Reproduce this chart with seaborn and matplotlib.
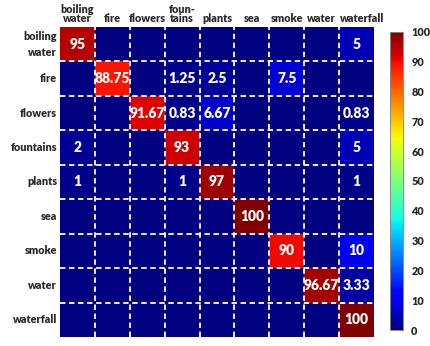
import numpy as np
import pandas as pd
import matplotlib
matplotlib.use("Agg")
import matplotlib.pyplot as plt
import matplotlib.transforms as mtransforms
import seaborn as sns

classes = ["boiling water", "fire", "flowers", "fountains", "plants", "sea", "smoke", "water", "waterfall"]
col_labels = ["boiling\nwater", "fire", "flowers", "foun-\ntains", "plants", "sea", "smoke", "water", "waterfall"]
row_labels = ["boiling\nwater", "fire", "flowers", "fountains", "plants", "sea", "smoke", "water", "waterfall"]

row_boiling_water = [95, 0, 0, 0, 0, 0, 0, 0, 5]
row_fire = [0, 88.75, 0, 1.25, 2.5, 0, 7.5, 0, 0]
row_flowers = [0, 0, 91.67, 0.83, 6.67, 0, 0, 0, 0.83]
row_fountains = [2, 0, 0, 93, 0, 0, 0, 0, 5]
row_plants = [1, 0, 0, 1, 97, 0, 0, 0, 1]
row_sea = [0, 0, 0, 0, 0, 100, 0, 0, 0]
row_smoke = [0, 0, 0, 0, 0, 0, 90, 0, 10]
row_water = [0, 0, 0, 0, 0, 0, 0, 96.67, 3.33]
row_waterfall = [0, 0, 0, 0, 0, 0, 0, 0, 100]

cbar_ticks = [0, 10, 20, 30, 40, 50, 60, 70, 80, 90, 100]

data = np.array([row_boiling_water, row_fire, row_flowers, row_fountains, row_plants,
                 row_sea, row_smoke, row_water, row_waterfall], dtype=float)
df = pd.DataFrame(data, index=row_labels, columns=col_labels)

def fmt(v):
    if v == 0:
        return ""
    if float(v).is_integer():
        return str(int(v))
    return ("%.2f" % v).rstrip("0").rstrip(".")

annot = np.vectorize(fmt)(data)

sns.set_style("white")
plt.rcParams["font.family"] = ["Lato", "DejaVu Sans"]

fig = plt.figure(figsize=(4.30, 3.46), dpi=100)
ax = fig.add_axes([0.1395, 0.026, 0.7305, 0.896])
cax = fig.add_axes([0.907, 0.046, 0.030, 0.862])

sns.heatmap(df, ax=ax, cbar_ax=cax, cmap="jet", vmin=0, vmax=100,
            annot=annot, fmt="",
            annot_kws={"color": "white", "fontsize": 10, "fontweight": "heavy"},
            cbar_kws={"ticks": cbar_ticks})

n = len(classes)
for k in range(1, n):
    ax.axhline(k, color="white", lw=1.3, ls=(0, (3, 2)))
    ax.axvline(k, color="white", lw=1.3, ls=(0, (3, 2)))

ax.xaxis.tick_top()
ax.set_xticklabels(col_labels, rotation=0, fontsize=7.8, fontweight="heavy", color="#2a2a2a",
                   linespacing=0.85)
ax.set_yticklabels(row_labels, rotation=0, fontsize=7.8, fontweight="heavy", color="#2a2a2a",
                   ha="right", linespacing=1.6)
ax.tick_params(axis="both", length=0, pad=2)
ax.set_xlabel("")
ax.set_ylabel("")

# nudge the last column label right, as in the reference
last = ax.get_xticklabels()[-1]
last.set_transform(last.get_transform() +
                   mtransforms.ScaledTranslation(6 / 100, 0, fig.dpi_scale_trans))

cax.tick_params(labelsize=7.8, length=3, direction="in", color="#444444", pad=6)
for t in cax.get_yticklabels():
    t.set_fontweight("heavy")
    t.set_color("#2a2a2a")
for s in cax.spines.values():
    s.set_visible(True)
    s.set_color("#888888")
    s.set_linewidth(0.5)

fig.savefig("out.png", dpi=100)
